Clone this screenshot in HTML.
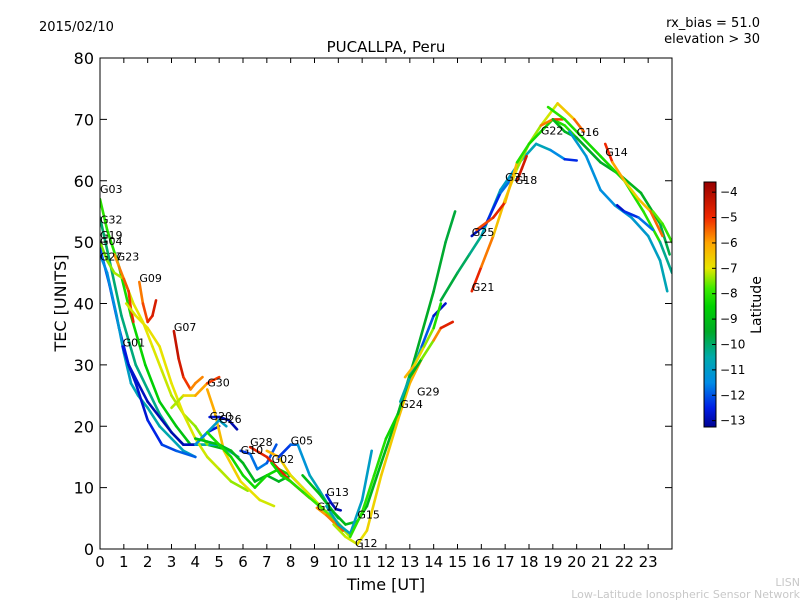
<!DOCTYPE html>
<html><head><meta charset="utf-8"><style>
body{margin:0;background:#fff;}
svg text{font-family:"DejaVu Sans","Liberation Sans",sans-serif;}
</style></head><body>
<svg id="c" width="800" height="600" xmlns="http://www.w3.org/2000/svg">
<rect width="800" height="600" fill="#fff"/>
<text x="39" y="31" font-size="13">2015/02/10</text>
<text x="760" y="27" font-size="13" text-anchor="end">rx_bias = 51.0</text>
<text x="760" y="43" font-size="13" text-anchor="end">elevation &gt; 30</text>
<text x="386" y="52" font-size="15" text-anchor="middle">PUCALLPA, Peru</text>
<text x="386" y="590" font-size="16" text-anchor="middle">Time [UT]</text>
<text x="0" y="0" font-size="16" text-anchor="middle" transform="translate(66,303) rotate(-90)">TEC [UNITS]</text>
<text x="0" y="0" font-size="14" text-anchor="middle" transform="translate(761,305) rotate(-90)">Latitude</text>
<text x="800" y="586" font-size="11" fill="#c8c8c8" text-anchor="end">LISN</text>
<text x="800" y="598" font-size="11" fill="#c8c8c8" text-anchor="end">Low-Latitude Ionospheric Sensor Network</text>
<g id="marks"></g>
<g id="axes"></g>
</svg>
<script>
const xTicks=[0,1,2,3,4,5,6,7,8,9,10,11,12,13,14,15,16,17,18,19,20,21,22,23];
const yTicks=[0,10,20,30,40,50,60,70,80];
const cbTicks=[-4,-5,-6,-7,-8,-9,-10,-11,-12,-13];
const tracks=[
{n:"G03",lx:0,ly:58,t:[0,0.3,0.8,1.3,1.9,2.5,3.2,3.8,4.5,5.5],tec:[57,52,46,38,30,24,20,17,17,16],lat:[-8,-8,-8.2,-8.3,-8.5,-8.6,-8.8,-9,-9.2,-9.3]},
{n:"G32",lx:0,ly:53,t:[0,0.4,0.9,1.5,2,2.5,3,3.5,4,5,5.8],tec:[54,47,38,30,26,22,19,17,17,17,15],lat:[-10,-10,-10.1,-10.2,-10.2,-10.3,-10.3,-10.4,-10.5,-10.5,-10.6]},
{n:"G19",lx:0,ly:50.5,t:[0,0.3,0.6,1,1.4,1.8,2.2,2.6,3,3.5,4,4.5],tec:[50,47,45,44,40,37,33,29,25,22,20,17],lat:[-7.6,-7.5,-7.4,-7.2,-7,-7,-7,-7.1,-7.2,-7.3,-7.4,-7.5]},
{n:"G04",lx:0,ly:49.5,t:[0,0.4,0.8,1.2,1.6,2,2.6,3,3.5,4,4.5,5],tec:[49,43,36,30,27,24,21,19,17,17,19,20],lat:[-12,-12.2,-12.4,-12.6,-12.8,-12.9,-13,-13,-13,-12.8,-12.7,-12.6]},
{n:"G27",lx:0,ly:47,t:[0,0.3,0.7,1,1.3,1.6,2,2.5,3,3.5,4],tec:[48,45,38,32,27,25,23,20,18,16,15],lat:[-11.5,-11.5,-11.3,-11,-10.8,-10.6,-10.5,-10.5,-10.6,-10.8,-11]},
{n:"G23",lx:0.7,ly:47,t:[0.6,0.8,1,1.2,1.3,1.4],tec:[48,46,44,42,39,37],lat:[-6,-5.8,-5.5,-5.2,-5,-4.8]},
{n:"",lx:0,ly:0,t:[1.1,1.5,2,2.5,3,3.5,4,4.5,5,5.5,6.2],tec:[40,38,36,33,27,22,18,15,13,11,9.5],lat:[-7.2,-7,-6.9,-6.9,-7,-7,-7.1,-7.1,-7.2,-7.3,-7.5]},
{n:"G09",lx:1.65,ly:43.5,t:[1.65,1.8,2,2.2,2.35],tec:[43.5,40,37,38,40.5],lat:[-5.8,-5.5,-5,-4.7,-4.5]},
{n:"G07",lx:3.1,ly:35.5,t:[3.1,3.3,3.5,3.8,4,4.3],tec:[35.5,31,28,26,27,28],lat:[-4.2,-4.4,-4.7,-5.5,-6,-5.5]},
{n:"G01",lx:0.95,ly:33,t:[0.95,1.2,1.5,2,2.6,3.2,4],tec:[33,30,27,21,17,16,15],lat:[-12.5,-12.7,-12.8,-12.6,-12.3,-12,-11.8]},
{n:"G30",lx:4.5,ly:26.5,t:[4.5,4.8,5.2,5.9,6.7,7.3],tec:[26,22.5,16,11,8,7],lat:[-6,-6.2,-6.5,-6.8,-7,-7.2]},
{n:"",lx:0,ly:0,t:[3,3.5,4,4.5,5],tec:[23,25,25,27,28],lat:[-7.5,-7,-6.5,-5.5,-4.8]},
{n:"G20",lx:4.6,ly:21,t:[4.6,5,5.4,5.75],tec:[21.5,21.5,21,19.5],lat:[-12.5,-12.8,-13,-13]},
{n:"G26",lx:5,ly:20.5,t:[4,4.5,5,5.3],tec:[17,19,21,20],lat:[-11.5,-11.2,-10.8,-11]},
{n:"G10",lx:5.9,ly:15.5,t:[5.9,6.3,6.6,7,7.4],tec:[16,15.5,13,14,17],lat:[-12.5,-12,-11.5,-11.8,-12.2]},
{n:"",lx:0,ly:0,t:[4,4.5,5,5.5,6,6.5,7,7.5,8,8.5,9],tec:[18,17.5,17,16,14,11,12,11,12,10,8],lat:[-9,-9,-9,-9.2,-9.2,-9.2,-9.3,-9.3,-9.2,-9.2,-9.2]},
{n:"",lx:0,ly:0,t:[4.5,5,5.5,6,6.5,7,7.5,8],tec:[19,17,15,12,10,12,13,12],lat:[-8.2,-8.2,-8.3,-8.3,-8.3,-8.3,-8.4,-8.3]},
{n:"G28",lx:6.3,ly:16.8,t:[6.3,7,7.5,8,8.8],tec:[16.6,15,13,11,8.3],lat:[-4.8,-4.8,-4.8,-4.8,-4.8]},
{n:"",lx:0,ly:0,t:[7,7.5,8,8.5,9,9.5,10,10.5],tec:[16,15,12,10,8,6,4,2],lat:[-6,-6.4,-6.8,-7,-7.1,-7.2,-7.3,-7.3]},
{n:"G02",lx:7.2,ly:14,t:[7.2,7.6,8,8.6,9.2,9.8,10.3],tec:[14,12,11,9,7,5,3],lat:[-8.5,-8.3,-8.2,-8,-7.8,-7.6,-7.5]},
{n:"G05",lx:8,ly:17,t:[7.5,8,8.3,8.8,9.2,9.6,10],tec:[15,17,17,12,9.6,7,5],lat:[-12.3,-12.2,-11.5,-11,-10.5,-10.3,-10.2]},
{n:"G13",lx:9.5,ly:8.6,t:[9.5,9.7,9.9,10.1],tec:[8.8,7.5,6.5,6.3],lat:[-12.5,-12.8,-13,-13]},
{n:"G17",lx:9.1,ly:6.3,t:[9.1,9.5,9.9,10.2],tec:[6.7,5.5,4,3],lat:[-6,-5.8,-5.5,-5.2]},
{n:"",lx:0,ly:0,t:[8.5,9.2,9.8,10.3,10.8,11.2,11.8,12.5,13.2,14,14.5,14.9],tec:[12,9,6,4,4.5,7,14,22,31,42,50,55],lat:[-9,-9,-9.1,-9.1,-9.1,-9.2,-9.2,-9.3,-9.4,-9.5,-9.6,-9.7]},
{n:"G15",lx:10.8,ly:5,t:[9.5,10,10.5,11,11.4],tec:[7,4,2.5,8,16],lat:[-10.6,-10.7,-10.8,-10.9,-11]},
{n:"G12",lx:10.7,ly:0.3,t:[9.8,10.3,10.8,11.2,11.8,12.5,13,13.5],tec:[4,2,0.8,3,12,21,27,31],lat:[-7.3,-7.2,-7,-6.8,-6.6,-6.5,-6.3,-6]},
{n:"",lx:0,ly:0,t:[10.5,11,11.5,12,12.5,13,13.5,14,14.5],tec:[2,6,12,18,22,28,33,38,40],lat:[-8,-8,-8,-8.2,-8.5,-10,-11.5,-12.5,-13]},
{n:"G24",lx:12.6,ly:23,t:[12.6,13,13.5,14,14.3,14.8],tec:[24,28,31,34,36,37],lat:[-11,-10,-8.5,-6.5,-5,-4.5]},
{n:"G29",lx:13.3,ly:25,t:[12.8,13.2,13.6,14,14.3],tec:[28,30,33,36,40],lat:[-6,-6.5,-7,-7.8,-8.5]},
{n:"G31",lx:17,ly:60,t:[14.3,15,15.5,16,16.8,17.6,18.3,18.9,19.5,20],tec:[40.5,45,48,51,58.5,63,66,65,63.5,63.3],lat:[-9.5,-9.8,-10,-10.5,-11,-11,-10.5,-11,-12,-12.8]},
{n:"G25",lx:15.6,ly:51,t:[15.6,16.2,16.8,17.4],tec:[51,53,58,61],lat:[-13,-12.8,-12,-11.5]},
{n:"G21",lx:15.6,ly:42,t:[15.6,16,16.5,17,17.5,18,18.5,19.2,19.9,20.3],tec:[42,46,51,57,62,66,69,72.6,70,68],lat:[-4.5,-5.3,-6,-6.8,-7.2,-7.5,-7.2,-7,-6,-5]},
{n:"",lx:0,ly:0,t:[15.8,16.5,17,17.5,18,18.5,19,19.5,20],tec:[52,54,56.5,63,66,68,70,69,67],lat:[-5.5,-5,-4.6,-8,-8.2,-8.3,-8.2,-8.1,-8]},
{n:"G22",lx:18.5,ly:67.5,t:[18.5,19,19.4],tec:[69,70,70],lat:[-6,-5.3,-5]},
{n:"G18",lx:17.4,ly:59.5,t:[17.5,17.7,17.9],tec:[60,62,64],lat:[-4.5,-4.5,-4.6]},
{n:"G16",lx:20,ly:67.3,t:[19,19.5,20,21,21.8,22.7,23.5,23.9],tec:[70,68,67,63,61,58,53,48],lat:[-9,-9.2,-9.4,-9.6,-9.3,-9.2,-9.5,-10]},
{n:"",lx:0,ly:0,t:[19.7,20.4,21,21.6,22.3,23,23.5,23.8],tec:[68,64,58.5,56,54,51,47,42],lat:[-11,-11.2,-11.5,-11.3,-11.2,-11,-10.8,-10.6]},
{n:"",lx:0,ly:0,t:[18.8,19.5,20,21,22,22.8,23.5,24],tec:[72,70,68,64,60,55,50,45],lat:[-8,-8.1,-8.2,-8.3,-8.2,-8,-8.1,-12.5]},
{n:"G14",lx:21.2,ly:64,t:[21.2,21.5,22,22.6,23.1,23.6],tec:[66,63,60,57,55,51],lat:[-4.5,-5.5,-6.5,-6.8,-6,-5]},
{n:"",lx:0,ly:0,t:[21.7,22,22.6,23.2],tec:[56,55,54,52],lat:[-12.8,-12.7,-12,-11.5]},
{n:"",lx:0,ly:0,t:[23.2,23.6,24],tec:[55,53,50],lat:[-7.5,-7.8,-8]}
];
const X0=100,X1=672,Y0=549,Y1=58;
const xs=t=>X0+t*(X1-X0)/24, ys=v=>Y0-v*(Y0-Y1)/80;
const stops=[[-13.3,[0,0,140]],[-12.5,[0,30,230]],[-11.5,[0,140,230]],[-10.5,[0,170,170]],[-9.5,[0,170,40]],[-8.5,[0,210,0]],[-7.8,[60,235,0]],[-7,[230,230,0]],[-6,[255,165,0]],[-5,[240,40,0]],[-3.6,[150,0,0]]];
function col(l){if(l<=stops[0][0])return rgb(stops[0][1]);for(let i=1;i<stops.length;i++){if(l<=stops[i][0]){const a=stops[i-1],b=stops[i],f=(l-a[0])/(b[0]-a[0]);return rgb(a[1].map((c,k)=>c+(b[1][k]-c)*f));}}return rgb(stops[stops.length-1][1]);}
function rgb(c){return`rgb(${c.map(Math.round).join(",")})`;}
const NS="http://www.w3.org/2000/svg";
const marks=document.getElementById("marks"),axes=document.getElementById("axes");
function mk(tag,at,par){const e=document.createElementNS(NS,tag);for(const k in at)e.setAttribute(k,at[k]);par.appendChild(e);return e;}
const clip=mk("clipPath",{id:"pc"},marks);mk("rect",{x:X0,y:Y1,width:X1-X0,height:Y0-Y1},clip);
const plot=mk("g",{"clip-path":"url(#pc)"},marks);


tracks.forEach((tr)=>{
  const g=mk("g",{},plot);
  
  
  for(let i=0;i<tr.t.length-1;i++){
    const s=mk("line",{x1:xs(tr.t[i]),y1:ys(tr.tec[i]),x2:xs(tr.t[i+1]),y2:ys(tr.tec[i+1]),stroke:col((tr.lat[i]+tr.lat[i+1])/2),"stroke-width":2.6,"stroke-linecap":"round"},g);
    
    
  }
});
tracks.forEach((tr)=>{if(!tr.n)return;
  const tx=mk("text",{x:xs(tr.lx),y:ys(tr.ly),"font-size":11},marks);tx.textContent=tr.n;
  
  
});
const fr=mk("rect",{x:X0,y:Y1,width:X1-X0,height:Y0-Y1,fill:"none",stroke:"#000","stroke-width":1},axes);


xTicks.forEach(v=>{const x=xs(v);
  mk("line",{x1:x,y1:Y0,x2:x,y2:Y0-5,stroke:"#000"},axes);mk("line",{x1:x,y1:Y1,x2:x,y2:Y1+5,stroke:"#000"},axes);
  const t=mk("text",{x:x,y:Y0+18,"font-size":15,"text-anchor":"middle"},axes);t.textContent=v;
  
  
});
yTicks.forEach(v=>{const y=ys(v);
  mk("line",{x1:X0,y1:y,x2:X0+7,y2:y,stroke:"#000"},axes);mk("line",{x1:X1,y1:y,x2:X1-7,y2:y,stroke:"#000"},axes);
  const t=mk("text",{x:X0-6,y:y+6,"font-size":16,"text-anchor":"end"},axes);t.textContent=v;
  
  
});
const CB0=182,CB1=427,L0=-3.6,L1=-13.25;
const cby=l=>CB0+(l-L0)/(L1-L0)*(CB1-CB0);
const cb=mk("g",{},axes);


for(let y=CB0;y<CB1;y++){const l=L0+(y+0.5-CB0)/(CB1-CB0)*(L1-L0);mk("rect",{x:704,y:y,width:12,height:1.2,fill:col(l)},cb);}
mk("rect",{x:704,y:CB0,width:12,height:CB1-CB0,fill:"none",stroke:"#000"},cb);
cbTicks.forEach(v=>{const y=cby(v);
  mk("line",{x1:716,y1:y,x2:712,y2:y,stroke:"#000"},cb);
  const t=mk("text",{x:720,y:y+4,"font-size":12},cb);t.textContent="\u2212"+Math.abs(v);
  
  
});
</script>
</body></html>
